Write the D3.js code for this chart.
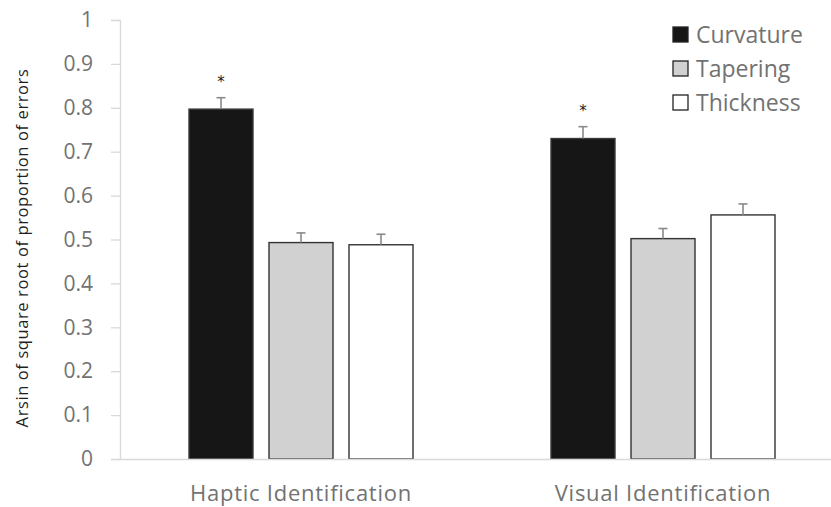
<!DOCTYPE html>
<html>
<head>
<meta charset="utf-8">
<script src="https://cdn.jsdelivr.net/npm/d3@7"></script>
<style>
  html, body { margin: 0; padding: 0; background: #fff; }
  svg { display: block; font-family: "Open Sans", Lato, sans-serif; }
</style>
</head>
<body>
<svg id="chart" width="831" height="507"></svg>
<script>
// Task groups, feature series and their means / standard errors
const groups = ["Haptic Identification", "Visual Identification"];
const series = ["Curvature", "Tapering", "Thickness"];
const curvature = [0.797, 0.730];
const tapering = [0.493, 0.502];
const thickness = [0.488, 0.556];
const curvatureErr = [0.026, 0.027];
const taperingErr = [0.022, 0.023];
const thicknessErr = [0.024, 0.025];
const significant = [true, true]; // curvature marked with an asterisk
const yTicks = [0, 0.1, 0.2, 0.3, 0.4, 0.5, 0.6, 0.7, 0.8, 0.9, 1];

const values = { Curvature: curvature, Tapering: tapering, Thickness: thickness };
const errors = { Curvature: curvatureErr, Tapering: taperingErr, Thickness: thicknessErr };
const fills = { Curvature: "#161616", Tapering: "#d0d1d0", Thickness: "#ffffff" };
const strokes = { Curvature: "#3a3a3a", Tapering: "#333333", Thickness: "#333333" };

const rows = [];
groups.forEach((g, i) => series.forEach(s => rows.push({ group: g, series: s, value: values[s][i], err: errors[s][i], gi: i })));

const svg = d3.select("#chart");
const plotLeft = 120, plotTop = 20, plotBottom = 459, plotRight = 844;
const clusterWidth = 224;

const y = d3.scaleLinear().domain([0, 1]).range([plotBottom, plotTop]);
const x0 = d3.scaleBand().domain(groups).range([plotLeft, plotRight]).paddingInner(0).paddingOuter(0);
const x1 = d3.scaleBand().domain(series).range([0, clusterWidth]).paddingInner(0.2).paddingOuter(0);
const groupOffset = g => x0(g) + (x0.bandwidth() - clusterWidth) / 2;

// y axis
const yAxis = svg.append("g").attr("transform", `translate(${plotLeft},0)`)
  .call(d3.axisLeft(y).tickValues(yTicks).tickSize(9).tickPadding(18).tickFormat(d3.format("")));
yAxis.select(".domain").attr("stroke", "#d9d9d9").attr("stroke-width", 1.3);
yAxis.selectAll(".tick line").attr("stroke", "#d9d9d9").attr("stroke-width", 1.3);
yAxis.selectAll(".tick text").attr("fill", "#727272").attr("font-size", 21)
  .attr("font-family", "'Open Sans', sans-serif");

// y axis title
svg.append("text")
  .attr("transform", `translate(28,248) rotate(-90)`)
  .attr("text-anchor", "middle")
  .attr("font-size", 16.5)
  .attr("letter-spacing", 0.6)
  .attr("fill", "#1f1f1f")
  .text("Arsin of square root of proportion of errors");

// bars
svg.append("g").selectAll("rect").data(rows).join("rect")
  .attr("x", d => groupOffset(d.group) + x1(d.series))
  .attr("y", d => y(d.value))
  .attr("width", x1.bandwidth())
  .attr("height", d => y(0) - y(d.value))
  .attr("fill", d => fills[d.series])
  .attr("stroke", d => strokes[d.series])
  .attr("stroke-width", 1.4);

// error bars
const eb = svg.append("g").attr("stroke", "#8a8a8a").attr("stroke-width", 1.6);
rows.forEach(d => {
  const cx = groupOffset(d.group) + x1(d.series) + x1.bandwidth() / 2;
  eb.append("line").attr("x1", cx).attr("x2", cx).attr("y1", y(d.value)).attr("y2", y(d.value + d.err));
  eb.append("line").attr("x1", cx - 4.5).attr("x2", cx + 4.5).attr("y1", y(d.value + d.err)).attr("y2", y(d.value + d.err));
});

// significance markers
rows.filter(d => d.series === "Curvature" && significant[d.gi]).forEach(d => {
  const cx = groupOffset(d.group) + x1(d.series) + x1.bandwidth() / 2;
  svg.append("text").attr("x", cx).attr("y", y(d.value + d.err) - 11)
    .attr("text-anchor", "middle").attr("font-size", 15).attr("fill", "#222")
    .attr("font-family", "DejaVu Sans, sans-serif").text("*");
});

// x axis
const xAxis = svg.append("g").attr("transform", `translate(0,${plotBottom})`)
  .call(d3.axisBottom(x0).tickSize(0).tickPadding(26));
xAxis.select(".domain").attr("stroke", "#d9d9d9").attr("stroke-width", 1.3);
xAxis.selectAll(".tick text").attr("fill", "#727272").attr("font-size", 22)
  .attr("letter-spacing", 0.75)
  .attr("font-family", "'Open Sans', sans-serif");

// legend
const legend = svg.append("g");
series.forEach((s, i) => {
  const gy = 34.5 + i * 34;
  legend.append("rect").attr("x", 673).attr("y", gy - 7.5).attr("width", 15).attr("height", 15)
    .attr("fill", fills[s]).attr("stroke", "#222").attr("stroke-width", 1.3);
  legend.append("text").attr("x", 696).attr("y", gy).attr("dy", "0.35em")
    .attr("font-size", 23).attr("fill", "#727272").text(s);
});
</script>
</body>
</html>
